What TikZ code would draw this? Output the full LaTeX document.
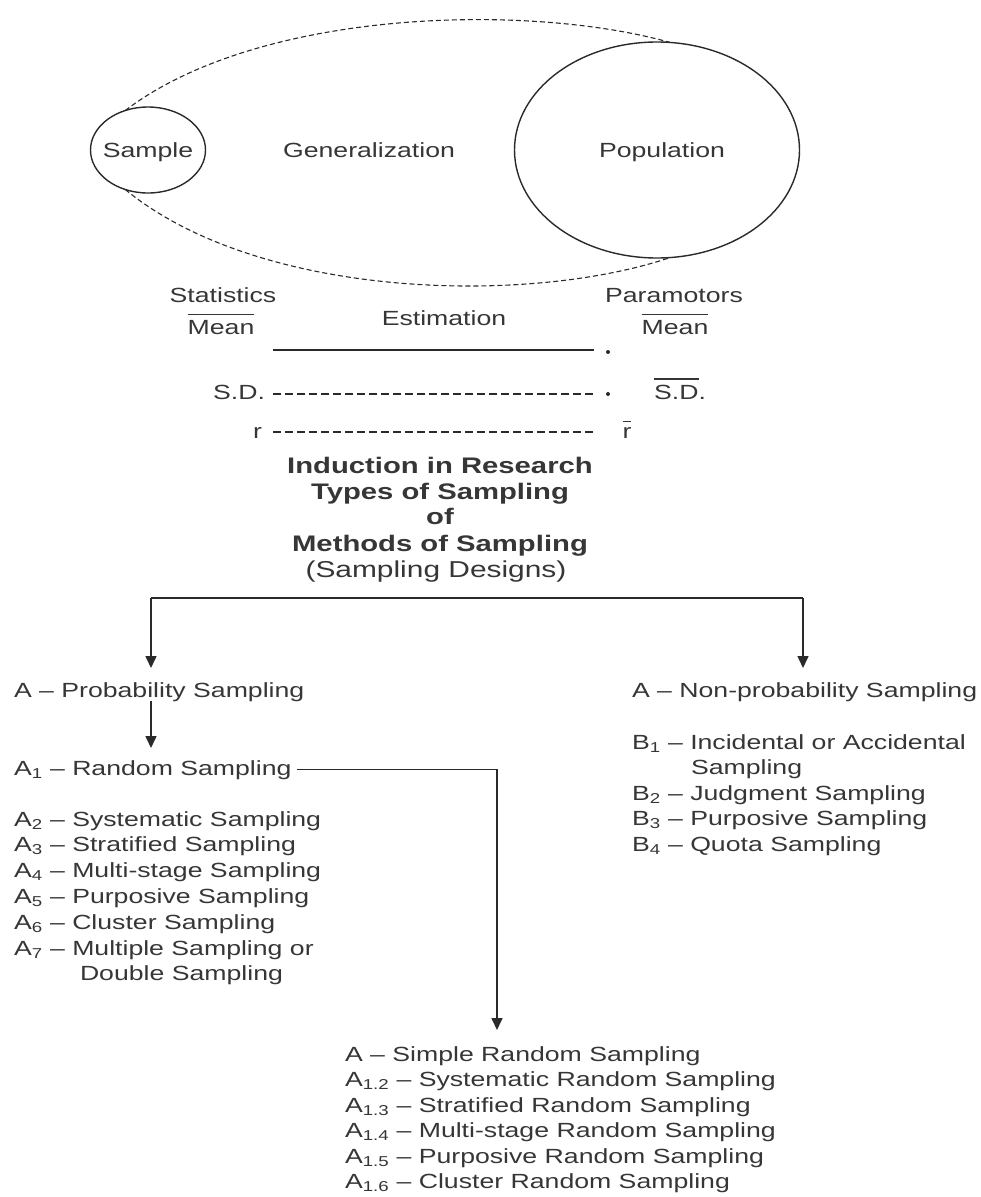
\documentclass[tikz,border=0pt]{standalone}
\usepackage{fontspec}
\setmainfont{Liberation Sans}[FakeStretch=1.3]
\usetikzlibrary{arrows.meta,shapes.geometric}
\definecolor{ink}{HTML}{2A2A2A}
\definecolor{txt}{HTML}{363636}
\newcommand\ovl[1]{\leavevmode\vbox{\hrule height 1.3pt\kern 5pt\hbox{#1}}}
\begin{document}
\begin{tikzpicture}[x=1pt,y=-1pt,
  every node/.style={inner sep=0pt, outer sep=0pt, text=txt},
  lbl/.style={font=\fontsize{20.5}{25.8}\selectfont, anchor=base west},
  ctr/.style={font=\fontsize{20.5}{25.8}\selectfont, anchor=base},
  rgt/.style={font=\fontsize{20.5}{25.8}\selectfont, anchor=base east},
  ttl/.style={font=\fontsize{22.5}{25.8}\selectfont\bfseries, anchor=base},
  ttlr/.style={font=\fontsize{23}{25.8}\selectfont, anchor=base},
  conn/.style={draw=ink, line width=1.5pt},
  arr/.style={conn, -{Triangle[length=12pt,width=11pt]}},
  dsh/.style={draw=ink, line width=1.2pt, dash pattern=on 8pt off 4pt},
  env/.style={draw=ink, line width=1.1pt, dash pattern=on 5pt off 3pt},
  circ/.style={ellipse, draw=ink, line width=1.4pt},
  dotm/.style={circle, fill=ink, minimum size=4pt},
]
\useasboundingbox (0,0) rectangle (981,1197);

% --- Generalization diagram
\node[circ, minimum width=115pt, minimum height=86pt] (sample) at (148,150) {};
\node[ctr] (samplbl) at (148,157) {Sample};
\node[circ, minimum width=285pt, minimum height=216pt] (pop) at (657,150) {};
\node[ctr] (poplbl) at (662,157) {Population};
\node[ctr] (gen) at (369,157) {Generalization};
\draw[env] (sample.120) .. controls (260,8) and (530,3) .. (pop.83);
\draw[env] (sample.240) .. controls (260,300) and (530,305) .. (pop.277);

% --- Estimation
\node[ctr] (stat) at (223,302) {Statistics};
\node[ctr] (smean) at (221,334) {\ovl{Mean}};
\node[ctr] (est) at (444,325) {Estimation};
\node[ctr] (param) at (674,302) {Paramotors};
\node[ctr] (pmean) at (675,334) {\ovl{Mean}};

\node[dotm] (d1) at (608,352) {};
\coordinate (m0) at (273,350);
\draw[conn] (m0) -- ([xshift=-14pt]d1.center |- m0);

\node[rgt] (sdl) at (265,399) {S.D.};
\node[dotm] (d2) at (608,394) {};
\node[ctr] (sdr) at (680,399) {\ovl{S.D}.};
\draw[dsh] ([xshift=8pt]sdl.east |- d2) -- ([xshift=-14pt]d2.center);

\node[rgt] (rl) at (262,438) {r};
\node[ctr] (rr) at (627,438) {\ovl{r}};
\coordinate (r0) at (273,432);
\draw[dsh] (r0) -- (594,432);

% --- Title
\node[ttl] (t1) at (440,473) {Induction in Research};
\node[ttl] (t2) at (440,499) {Types of Sampling};
\node[ttl] (t3) at (440,524) {of};
\node[ttl] (t4) at (440,551) {Methods of Sampling};
\node[ttlr] (t5) at (436,577) {(Sampling Designs)};

% --- Branches
\coordinate (bl) at (151,598);
\coordinate (br) at (803,598);
\coordinate (tipP) at (151,668);
\coordinate (tipN) at (803,668);
\draw[conn] (bl) -- (br);
\draw[arr] (bl) -- (tipP);
\draw[arr] (br) -- (tipN);

\node[lbl] (prob) at (14,697) {A – Probability Sampling};
\node[lbl] (nonprob) at (632,697) {A – Non-probability Sampling};

\coordinate (tipA1) at (151,748);
\draw[arr] (prob.south -| bl) -- (tipA1);

\node[lbl] (a1) at (14,775) {A\textsubscript{1} – Random Sampling};
\node[lbl] (a2) at (14,826) {A\textsubscript{2} – Systematic Sampling};
\node[lbl] (a3) at (14,851.8) {A\textsubscript{3} – Stratified Sampling};
\node[lbl] (a4) at (14,877.6) {A\textsubscript{4} – Multi-stage Sampling};
\node[lbl] (a5) at (14,903.4) {A\textsubscript{5} – Purposive Sampling};
\node[lbl] (a6) at (14,929.2) {A\textsubscript{6} – Cluster Sampling};
\node[lbl] (a7) at (14,955) {A\textsubscript{7} – Multiple Sampling or};
\node[lbl] (a7b) at (80,980.8) {Double Sampling};

\node[lbl] (b1) at (632,749) {B\textsubscript{1} – Incidental or Accidental};
\node[lbl] (b1b) at (691,774.5) {Sampling};
\node[lbl] (b2) at (632,800) {B\textsubscript{2} – Judgment Sampling};
\node[lbl] (b3) at (632,825.5) {B\textsubscript{3} – Purposive Sampling};
\node[lbl] (b4) at (632,851) {B\textsubscript{4} – Quota Sampling};

\coordinate (tipS) at (497,1030);
\draw[arr] ([xshift=5pt]a1.east) -| (tipS);

\node[lbl] (s1) at (345,1061) {A – Simple Random Sampling};
\node[lbl] (s2) at (345,1086.5) {A\textsubscript{1.2} – Systematic Random Sampling};
\node[lbl] (s3) at (345,1112) {A\textsubscript{1.3} – Stratified Random Sampling};
\node[lbl] (s4) at (345,1137.5) {A\textsubscript{1.4} – Multi-stage Random Sampling};
\node[lbl] (s5) at (345,1163) {A\textsubscript{1.5} – Purposive Random Sampling};
\node[lbl] (s6) at (345,1188.5) {A\textsubscript{1.6} – Cluster Random Sampling};
\end{tikzpicture}
\end{document}
